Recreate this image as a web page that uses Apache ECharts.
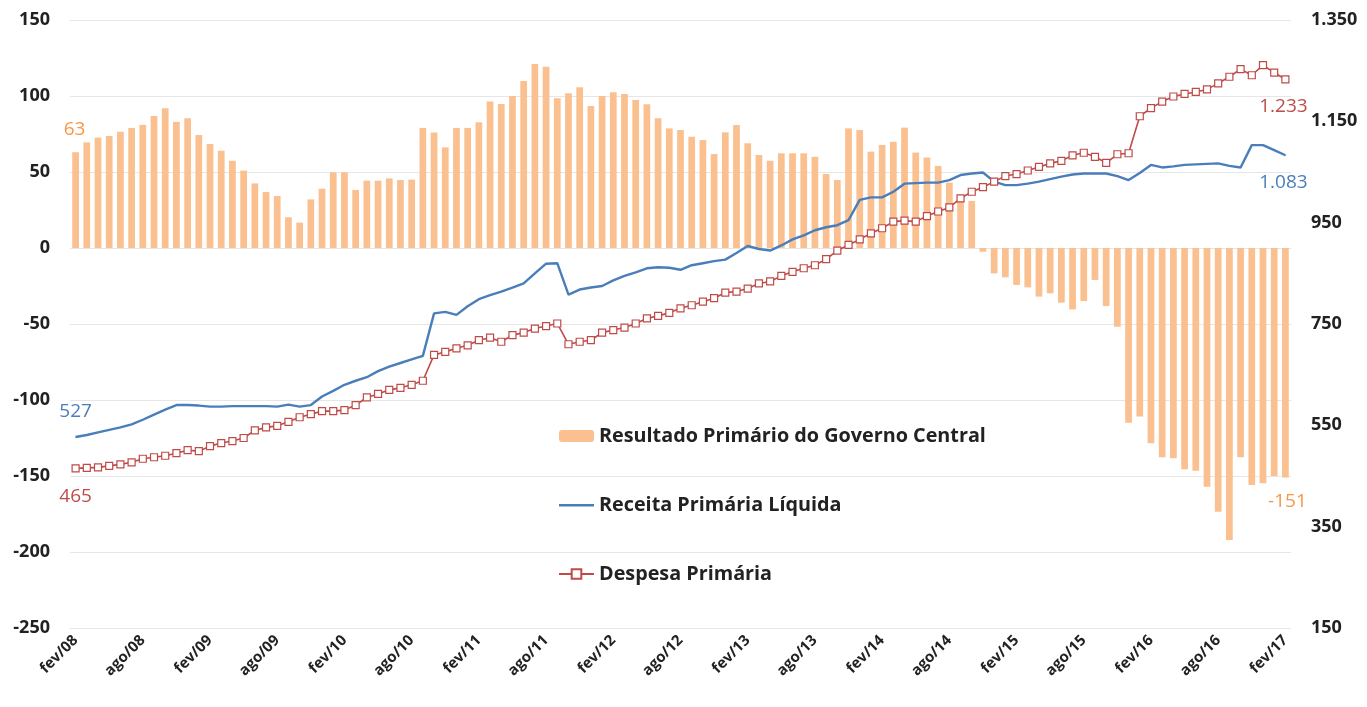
<!DOCTYPE html>
<html>
<head>
<meta charset="utf-8">
<script src="https://cdn.jsdelivr.net/npm/echarts@6/dist/echarts.min.js"></script>
<style>
  html, body { margin: 0; padding: 0; background: #fff; }
  #chart { width: 1367px; height: 707px; }
</style>
</head>
<body>
<div id="chart"></div>
<script>
// meses fev/08 .. fev/17
const meses = ['jan', 'fev', 'mar', 'abr', 'mai', 'jun', 'jul', 'ago', 'set', 'out', 'nov', 'dez'];
const categorias = [];
for (let i = 0; i < 109; i++) {
  const m = (1 + i) % 12;
  const a = 8 + Math.floor((1 + i) / 12);
  categorias.push(meses[m] + '/' + String(a).padStart(2, '0'));
}

// R$ bilhões, acumulado em 12 meses (eixo esquerdo)
const resultadoPrimario = [
  63, 69.5, 72.6, 73.7, 76.5, 79, 81, 86.8, 91.9, 83, 85.3, 74.3,
  68.4, 64, 57.4, 50.9, 42.5, 36.8, 34.2, 20.2, 16.7, 32, 39, 49.8,
  49.8, 38.2, 44.3, 44.3, 45.8, 44.7, 45, 79, 76, 66.2, 79, 79,
  82.7, 96.3, 94.7, 100, 109.9, 121, 119.3, 98.5, 101.8, 105.7, 93.4, 100,
  102.4, 101.3, 97.4, 94.5, 85.3, 78.7, 77.6, 73.2, 71, 61.8, 76.1, 80.9,
  68.9, 61.2, 57.4, 62.3, 62.3, 62.3, 60, 48.7, 44.7, 78.7, 77.6, 63.4,
  67.8, 69.9, 79.2, 62.8, 59.5, 54, 43, 31, 31, -2.5, -16.7, -19.3,
  -24.3, -25.9, -32, -29.8, -36, -40.4, -34.9, -21, -38.2, -51.8, -114.9, -110.9,
  -128.5, -137.7, -138.4, -145.6, -146.5, -157, -173.5, -192.1, -137.7, -155.9, -154.8, -150,
  -151
];

// eixo direito
const receitaLiquida = [
  527, 531, 536, 541, 546, 552, 561, 571, 581, 590, 590, 589,
  587, 587, 588, 588, 588, 588, 587, 591, 587, 590, 607, 618,
  630, 638, 645, 657, 666, 673, 680, 687, 771, 774, 768, 785,
  799, 807, 814, 822, 830, 850, 869, 870, 808, 818, 822, 825,
  836, 845, 852, 860, 862, 861, 857, 866, 870, 874, 877, 890,
  904, 898, 895, 905, 917, 925, 935, 941, 945, 955, 995, 1000,
  1000, 1011, 1027, 1028, 1029, 1029, 1034, 1044, 1047, 1049, 1031, 1024,
  1024, 1027, 1031, 1036, 1041, 1045, 1047, 1047, 1047, 1042, 1034, 1048,
  1064, 1059, 1061, 1064, 1065, 1066, 1067, 1062, 1059, 1103, 1103, 1093,
  1083
];

const despesaPrimaria = [
  465, 466, 467, 470, 473, 477, 484, 487, 490, 495, 501, 499,
  509, 515, 519, 525, 540, 546, 549, 557, 566, 572, 578, 578,
  580, 590, 605, 612, 620, 624, 630, 638, 689, 695, 702, 708,
  718, 723, 715, 728, 733, 741, 746, 751, 710, 715, 718, 733,
  738, 743, 751, 761, 766, 772, 781, 787, 794, 801, 812, 814,
  820, 830, 834, 845, 853, 860, 866, 878, 895, 906, 917, 929,
  939, 952, 954, 952, 963, 972, 980, 998, 1011, 1020, 1031, 1042,
  1046, 1053, 1060, 1067, 1072, 1083, 1088, 1080, 1068, 1085, 1087, 1160,
  1176, 1189, 1199, 1204, 1208, 1213, 1225, 1238, 1253, 1241, 1261, 1246,
  1233
];

const corBarra = '#FAC090';
const corLaranja = '#F79646';
const corAzul = '#4A7EBB';
const corVermelho = '#BE4B48';
const fonte = 'Open Sans';

function milhar(v) {
  return String(v).replace(/\B(?=(\d{3})+(?!\d))/g, '.');
}

// rótulos só no primeiro e no último ponto
function comRotulos(arr, cor, posIni, offIni, posFim, offFim, fmt, extra) {
  const n = arr.length;
  return arr.map((v, i) => {
    if (i !== 0 && i !== n - 1) return v;
    return Object.assign({
      value: v,
      label: {
        show: true,
        position: i === 0 ? posIni : posFim,
        offset: i === 0 ? offIni : offFim,
        color: cor,
        fontFamily: fonte,
        fontSize: 19,
        formatter: fmt
      }
    }, extra || {});
  });
}

const chart = echarts.init(document.getElementById('chart'));

const option = {
  backgroundColor: '#fff',
  animation: false,
  textStyle: { fontFamily: fonte },
  grid: { left: 70, right: 76, top: 20, bottom: 79, containLabel: false },
  legend: {
    orient: 'vertical',
    left: 553,
    top: 421,
    itemWidth: 35,
    itemHeight: 12,
    itemGap: 49,
    textStyle: { fontFamily: fonte, fontSize: 19.8, fontWeight: 'bold', color: '#222', lineHeight: 20 },
    data: [
      'Resultado Primário do Governo Central',
      { name: 'Receita Primária Líquida', icon: 'path://M0,0 M0,5 L35,5 L35,7.5 L0,7.5 Z M35,12' },
      'Despesa Primária'
    ]
  },
  xAxis: {
    type: 'category',
    data: categorias,
    boundaryGap: true,
    axisLine: { show: false },
    axisTick: { show: false },
    axisLabel: {
      interval: 5,
      rotate: 45,
      margin: 10,
      fontFamily: fonte,
      fontSize: 15,
      fontWeight: 'bold',
      color: '#222'
    }
  },
  yAxis: [
    {
      type: 'value',
      min: -250,
      max: 150,
      interval: 50,
      axisLine: { show: false },
      axisTick: { show: false },
      splitLine: { lineStyle: { color: '#e6e6e6', width: 1 } },
      axisLabel: { margin: 20, fontFamily: fonte, fontSize: 18, fontWeight: 'bold', color: '#222' }
    },
    {
      type: 'value',
      min: 150,
      max: 1350,
      interval: 200,
      axisLine: { show: false },
      axisTick: { show: false },
      splitLine: { show: false },
      axisLabel: {
        margin: 20,
        fontFamily: fonte,
        fontSize: 18,
        fontWeight: 'bold',
        color: '#222',
        formatter: (v) => milhar(v)
      }
    }
  ],
  series: [
    {
      name: 'Resultado Primário do Governo Central',
      type: 'bar',
      yAxisIndex: 0,
      barCategoryGap: '40%',
      itemStyle: { color: corBarra },
      data: comRotulos(resultadoPrimario, corLaranja, 'top', [-1, -8], 'bottom', [2, 10],
        (p) => String(p.value))
    },
    {
      name: 'Receita Primária Líquida',
      type: 'line',
      yAxisIndex: 1,
      symbol: 'none',
      showSymbol: true,
      lineStyle: { color: corAzul, width: 2.4 },
      itemStyle: { color: corAzul },
      data: comRotulos(receitaLiquida, corAzul, 'top', [0, -10], 'bottom', [-2, 12],
        (p) => milhar(p.value), { symbol: 'circle', symbolSize: 1 }),
      z: 3
    },
    {
      name: 'Despesa Primária',
      type: 'line',
      yAxisIndex: 1,
      symbol: 'rect',
      symbolSize: 7,
      showSymbol: true,
      lineStyle: { color: corVermelho, width: 1.6 },
      itemStyle: { color: '#fff', borderColor: corVermelho, borderWidth: 1.2 },
      data: comRotulos(despesaPrimaria, corVermelho, 'bottom', [0, 10], 'bottom', [-2, 9],
        (p) => milhar(p.value)),
      z: 4
    }
  ]
};

chart.setOption(option);
</script>
</body>
</html>
